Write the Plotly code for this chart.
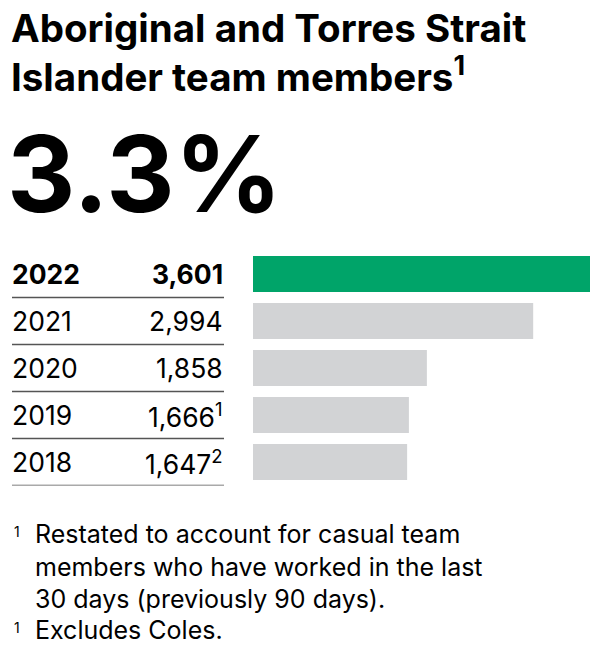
import plotly.graph_objects as go

years = ["2022", "2021", "2020", "2019", "2018"]
values = [3601, 2994, 1858, 1666, 1647]
value_labels = ["3,601", "2,994", "1,858", "1,666<sup>1</sup>", "1,647<sup>2</sup>"]
bar_colors = ["#00A469", "#D2D3D5", "#D2D3D5", "#D2D3D5", "#D2D3D5"]
title_lines = ["Aboriginal and Torres Strait", "Islander team members<sup>1</sup>"]
headline = "3.3%"
footnotes = [("1", "Restated to account for casual team<br>members who have worked in the last<br>30 days (previously 90 days)."),
             ("1", "Excludes Coles.")]

W, H = 614, 654
FONT = "Inter, Liberation Sans, Arial, sans-serif"

def px(x):
    return x / W

def py(y):
    return 1 - y / H

rows = list(range(len(years)))

fig = go.Figure()
fig.add_trace(go.Bar(
    x=values, y=rows, orientation="h",
    marker=dict(color=bar_colors, line=dict(width=0)),
    hoverinfo="skip",
))

fig.update_layout(
    width=W, height=H,
    margin=dict(l=0, r=0, t=0, b=0),
    paper_bgcolor="white", plot_bgcolor="white",
    showlegend=False,
    bargap=11 / 47,
    xaxis=dict(domain=[px(253), px(590)], range=[0, max(values)],
               visible=False, fixedrange=True),
    yaxis=dict(domain=[py(485.5), py(250.5)], range=[len(years) - 0.5, -0.5],
               visible=False, fixedrange=True),
    font=dict(family=FONT, color="#000"),
)

annotations = []
# Title
for i, t in enumerate(title_lines):
    annotations.append(dict(text="<b>" + t + "</b>", x=px(9), y=py(28 + i * 47),
                            xref="paper", yref="paper", xanchor="left", yanchor="middle",
                            showarrow=False, font=dict(size=38.5, family=FONT)))
# Headline number
annotations.append(dict(text="<b>" + headline + "</b>", x=px(5), y=py(173),
                        xref="paper", yref="paper", xanchor="left", yanchor="middle",
                        showarrow=False, font=dict(size=106, family=FONT)))
# Table rows
for i, (yr, lab) in enumerate(zip(years, value_labels)):
    bold = i == 0
    yt = "<b>" + yr + "</b>" if bold else yr
    vt = "<b>" + lab + "</b>" if bold else lab
    annotations.append(dict(text=yt, x=px(10), y=i, xref="paper", yref="y",
                            xanchor="left", yanchor="middle", showarrow=False,
                            font=dict(size=26.5, family=FONT)))
    annotations.append(dict(text=vt, x=px(225), y=i, xref="paper", yref="y",
                            xanchor="right", yanchor="middle", showarrow=False,
                            font=dict(size=26.5, family=FONT)))
# Footnotes
fy = [533, 629]
for (mark, txt), y0 in zip(footnotes, fy):
    annotations.append(dict(text=mark, x=px(12), y=py(y0 - 2), xref="paper", yref="paper",
                            xanchor="left", yanchor="middle", showarrow=False,
                            font=dict(size=14, family=FONT)))
    annotations.append(dict(text=txt, x=px(33), y=py(y0 - 16), xref="paper", yref="paper",
                            xanchor="left", yanchor="top", showarrow=False, align="left",
                            font=dict(size=25, family=FONT)))
fig.update_layout(annotations=annotations)

shapes = []
for i in rows:
    shapes.append(dict(type="line", xref="paper", yref="y",
                       x0=px(12), x1=px(224), y0=i + 0.5, y1=i + 0.5,
                       line=dict(color="#555555", width=1.3)))
fig.update_layout(shapes=shapes)

fig.write_html("out.html", config={"displayModeBar": False})
